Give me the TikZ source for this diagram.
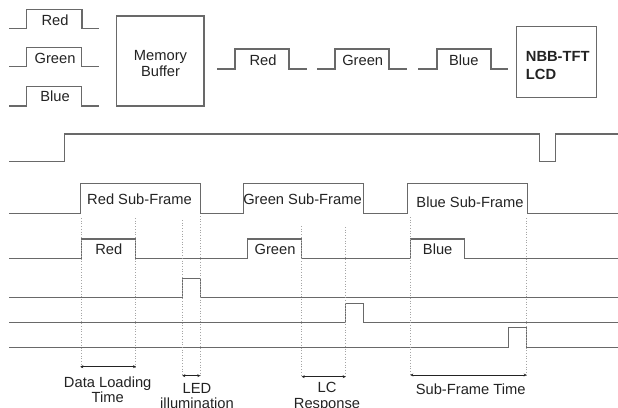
\documentclass[tikz,border=0pt]{standalone}
\usepackage{fontspec}
\setmainfont{Liberation Sans}
\usetikzlibrary{arrows.meta}
\definecolor{wavegray}{RGB}{105,105,105}
\definecolor{dotgray}{RGB}{165,165,165}
\definecolor{txtgray}{RGB}{35,35,35}
\begin{document}
\begin{tikzpicture}[x=1pt,y=-1pt,
  wave/.style={draw=wavegray,line width=1.1pt,line join=miter},
  boxshape/.style={draw=wavegray,line width=1.1pt},
  guide/.style={draw=dotgray,line width=0.7pt,dotted},
  span/.style={draw=txtgray,line width=0.8pt,{Stealth[length=3pt,width=3pt]}-{Stealth[length=3pt,width=3pt]}},
  lbl/.style={anchor=base,inner sep=0pt,text=txtgray,font=\fontsize{14.7}{15.5}\selectfont},
  lblb/.style={lbl,font=\fontsize{14.7}{17.6}\selectfont\bfseries}]
\useasboundingbox (0,0) rectangle (618,407);
\fill[white] (0,0) rectangle (618,407);

% input pulses
\draw[wave] (9.3,28.3) -- (26.7,28.3) -- (26.7,9.3) -- (82,9.3) -- (82,28.3) -- (99.3,28.3);
\draw[wave] (9.3,66.7) -- (26.7,66.7) -- (26.7,47.7) -- (81.3,47.7) -- (81.3,66.7) -- (99.3,66.7);
\draw[wave] (9.3,106) -- (26.7,106) -- (26.7,86.7) -- (81.3,86.7) -- (81.3,106) -- (99.3,106);
\node[lbl] (inR) at (55,25) {Red};
\node[lbl] (inG) at (55,63.7) {Green};
\node[lbl] (inB) at (55,101.7) {Blue};

% memory buffer
\draw[boxshape] (116.7,16) rectangle (204,106);
\node[lbl,align=center] (mem) at (160.5,76) {Memory\\Buffer};

% output pulses
\draw[wave] (217,69) -- (235,69) -- (235,49) -- (289,49) -- (289,69) -- (307,69);
\draw[wave] (317,69) -- (335,69) -- (335,49) -- (389,49) -- (389,69) -- (407,69);
\draw[wave] (418,69) -- (437,69) -- (437,49) -- (491,49) -- (491,69) -- (508,69);
\node[lbl] (outR) at (263,65) {Red};
\node[lbl] (outG) at (362.7,65) {Green};
\node[lbl] (outB) at (463.8,65) {Blue};

% LCD
\draw[boxshape] (516.5,26.7) rectangle (596.7,97.7);
\node[lblb,anchor=base west,align=left] (lcd) at (525.7,79.3) {NBB-TFT\\LCD};

% frame signal
\draw[wave] (9,161.7) -- (64.3,161.7) -- (64.3,134) -- (539.7,134) -- (539.7,161.7) -- (555.3,161.7) -- (555.3,134) -- (618,134);

% sub-frame signal
\draw[wave] (9,213.3) -- (80.3,213.3) -- (80.3,183.3) -- (200.3,183.3) -- (200.3,213.3)
  -- (243.7,213.3) -- (243.7,183.3) -- (363.7,183.3) -- (363.7,213.3)
  -- (407.3,213.3) -- (407.3,183.3) -- (527.7,183.3) -- (527.7,213.3) -- (618,213.3);
\node[lbl] (sfR) at (139.5,204.3) {Red Sub-Frame};
\node[lbl] (sfG) at (302.5,204.3) {Green Sub-Frame};
\node[lbl] (sfB) at (470,207.3) {Blue Sub-Frame};

% data signal
\draw[wave] (9,258.3) -- (81.3,258.3) -- (81.3,239) -- (135.3,239) -- (135.3,258.3)
  -- (247.3,258.3) -- (247.3,239) -- (301.7,239) -- (301.7,258.3)
  -- (410.3,258.3) -- (410.3,239) -- (464.7,239) -- (464.7,258.3) -- (618,258.3);
\node[lbl] (dR) at (108.8,254) {Red};
\node[lbl] (dG) at (275,254) {Green};
\node[lbl] (dB) at (437.7,254) {Blue};

% LED / LC lines
\draw[wave] (9,297.3) -- (182.3,297.3) -- (182.3,278.3) -- (200.3,278.3) -- (200.3,297.3) -- (618,297.3);
\draw[wave] (9,322.3) -- (345.7,322.3) -- (345.7,303.3) -- (363.3,303.3) -- (363.3,322.3) -- (618,322.3);
\draw[wave] (9,347.3) -- (508.7,347.3) -- (508.7,327.7) -- (526.7,327.7) -- (526.7,347.3) -- (618,347.3);

% guide lines
\draw[guide] (81.3,218) -- (81.3,367);
\draw[guide] (135.5,218) -- (135.5,367);
\draw[guide] (182.3,220) -- (182.3,376);
\draw[guide] (200.3,216) -- (200.3,376);
\draw[guide] (301.7,226) -- (301.7,377);
\draw[guide] (345.7,227) -- (345.7,377);
\draw[guide] (410.3,217) -- (410.3,375);
\draw[guide] (526.7,218) -- (526.7,375);

% spans
\coordinate (a1) at (80.3,366.7); \coordinate (a2) at (136,366.7);
\coordinate (b1) at (182.3,375.7); \coordinate (b2) at (200.3,375.7);
\coordinate (c1) at (301.7,376.7); \coordinate (c2) at (345.7,376.7);
\coordinate (d1) at (410.3,375); \coordinate (d2) at (526.7,375);
\draw[span] (a1) -- (a2);
\draw[span] (b1) -- (b2);
\draw[span] (c1) -- (c2);
\draw[span] (d1) -- (d2);

\node[lbl,align=center] (tdl) at (107.7,402.7) {Data Loading\\Time};
\node[lbl,align=center] (tled) at (197,408.5) {LED\\illumination};
\node[lbl,align=center] (tlc) at (327,408) {LC\\Response};
\node[lbl] (tsf) at (470.7,394) {Sub-Frame Time};
\end{tikzpicture}
\end{document}
